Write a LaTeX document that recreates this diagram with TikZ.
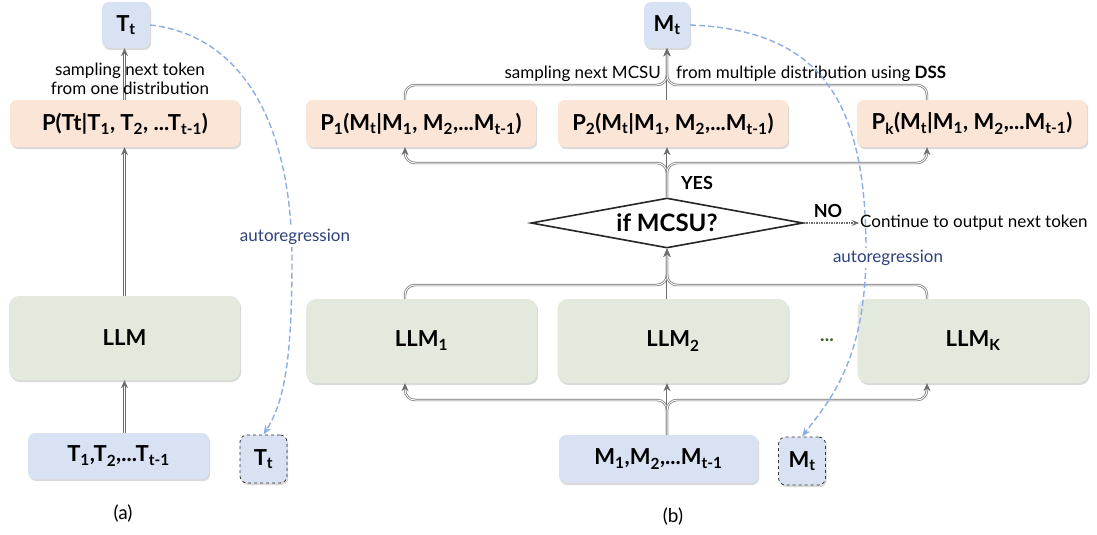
\documentclass[tikz,border=0pt]{standalone}
\usepackage{fontspec}
\setmainfont{Lato}
\usetikzlibrary{shapes.geometric,arrows.meta,shadows,calc}
\newcommand{\sbs}[1]{\textsubscript{#1}}
\definecolor{boxblue}{RGB}{217,226,243}
\definecolor{boxorange}{RGB}{251,229,214}
\definecolor{boxgreen}{RGB}{227,234,221}
\definecolor{arblue}{RGB}{140,172,230}
\definecolor{artext}{RGB}{45,65,125}
\definecolor{dotgreen}{RGB}{60,95,35}
\definecolor{tubegray}{RGB}{110,110,110}
\tikzset{
  box/.style={rounded corners=7pt, inner sep=0pt, font=\fontsize{22}{25}\selectfont\bfseries,
    drop shadow={shadow xshift=1.2pt, shadow yshift=-2pt, opacity=0.3}},
  bluebox/.style={box, fill=boxblue},
  orangebox/.style={box, fill=boxorange, minimum width=230pt, minimum height=47pt},
  greenbox/.style={box, fill=boxgreen, minimum width=231pt, minimum height=84pt, rounded corners=10pt},
  newtok/.style={box, fill=boxblue, draw=black!80, dashed, line width=0.8pt, minimum width=47pt, minimum height=48pt},
  decision/.style={diamond, draw=black!85, line width=1.6pt, fill=white, shape aspect=5.4,
    minimum width=272pt, minimum height=50pt, inner sep=0pt, font=\fontsize{24}{27}\selectfont\bfseries},
  tube/.style={draw=tubegray, double=white, double distance=1pt, line width=0.7pt,
    -{Stealth[length=8pt,width=7pt]}, rounded corners=10pt},
  autoreg/.style={draw=arblue, line width=1.4pt, dash pattern=on 6pt off 3pt,
    -{Stealth[length=9pt,width=7pt]}},
  note/.style={font=\fontsize{17}{19}\selectfont, inner sep=1pt},
  artxt/.style={font=\fontsize{17}{19}\selectfont, text=artext, fill=white, inner sep=2pt},
}
\begin{document}
\begin{tikzpicture}[x=1pt,y=-1pt]
\useasboundingbox (0,0) rectangle (1097,535);
% ---------- (a)
\node[bluebox, minimum width=48pt, minimum height=46pt] (Tt) at (126,25) {T\sbs{t}};
\node[orangebox] (Pa) at (125,123.5) {P(Tt|T\sbs{1}, T\sbs{2}, ...T\sbs{t-1})};
\node[greenbox] (LLMa) at (124.5,338) {LLM};
\node[bluebox, minimum width=181pt, minimum height=46pt] (T1) at (118.5,456) {T\sbs{1},T\sbs{2},...T\sbs{t-1}};
\node[newtok] (Tta) at (263.5,459) {T\sbs{t}};
\node[font=\fontsize{19}{22}\selectfont] (la) at (123,514) {(a)};
\draw[tube] (T1.north -| LLMa) -- (LLMa.south);
\draw[tube] (LLMa.north) -- (Pa.south -| LLMa);
\draw[tube] (Pa.north -| LLMa) -- (Tt.south -| LLMa);
\node[note, align=center] (samp) at (130,79) {sampling next token\\from one distribution};
\draw[autoreg] (Tt.east) .. controls (240,35) and (292,120) .. (292,260)
  .. controls (292,370) and (282,405) .. (Tta.north);
\node[artxt] (ara) at (295,237) {autoregression};
% ---------- (b)
\coordinate (cl) at (405,0);
\coordinate (cr) at (927,0);
\coordinate (yb1) at (0,400);
\coordinate (yb2) at (0,285);
\coordinate (yb3) at (0,163);
\coordinate (yb4) at (0,85);
\node[bluebox, minimum width=46pt, minimum height=46pt] (Mt) at (667,25) {M\sbs{t}};
\node[orangebox] (P1) at (421,123.5) {P\sbs{1}(M\sbs{t}|M\sbs{1}, M\sbs{2},...M\sbs{t-1})};
\node[orangebox] (P2) at (673,123.5) {P\sbs{2}(M\sbs{t}|M\sbs{1}, M\sbs{2},...M\sbs{t-1})};
\node[orangebox] (Pk) at (972,123.5) {P\sbs{k}(M\sbs{t}|M\sbs{1}, M\sbs{2},...M\sbs{t-1})};
\node[greenbox] (L1) at (421.5,341) {LLM\sbs{1}};
\node[greenbox] (L2) at (673,341) {LLM\sbs{2}};
\node[greenbox] (LK) at (973,341) {LLM\sbs{K}};
\node[font=\fontsize{19}{22}\selectfont\bfseries, text=dotgreen] (dots) at (827,340) {...};
\node[bluebox, minimum width=199pt, minimum height=48pt] (M1) at (658.5,459) {M\sbs{1},M\sbs{2},...M\sbs{t-1}};
\node[newtok] (Mtb) at (802,461) {M\sbs{t}};
\node[font=\fontsize{19}{22}\selectfont] (lb) at (673,517) {(b)};
% bottom distribution
\draw[tube] (M1.north -| Mt) -- (L2.south -| Mt);
\draw[tube] (M1.north -| Mt) -- (Mt |- yb1) -- (cl |- yb1) -- (L1.south -| cl);
\draw[tube] (M1.north -| Mt) -- (Mt |- yb1) -- (cr |- yb1) -- (LK.south -| cr);
% gather to decision
\node[decision] (dec) at (667,223) {if MCSU?};
\draw[tube] (L2.north -| Mt) -- (dec.south);
\draw[tube] (L1.north -| cl) -- (cl |- yb2) -- (Mt |- yb2) -- (dec.south);
\draw[tube] (LK.north -| cr) -- (cr |- yb2) -- (Mt |- yb2) -- (dec.south);
% distribute to P
\draw[tube] (dec.north) -- (P2.south -| Mt);
\draw[tube] (dec.north) -- (Mt |- yb3) -- (cl |- yb3) -- (P1.south -| cl);
\draw[tube] (dec.north) -- (Mt |- yb3) -- (cr |- yb3) -- (Pk.south -| cr);
% gather to Mt
\draw[tube] (P2.north -| Mt) -- (Mt.south);
\draw[tube] (P1.north -| cl) -- (cl |- yb4) -- (Mt |- yb4) -- (Mt.south);
\draw[tube] (Pk.north -| cr) -- (cr |- yb4) -- (Mt |- yb4) -- (Mt.south);
\node[note, anchor=east] (sm1) at (662,74) {sampling next MCSU};
\node[note, anchor=west] (sm2) at (675,74) {from multiple distribution using \textbf{DSS}};
\node[font=\fontsize{18}{20}\selectfont\bfseries] (yes) at (697,183) {YES};
% autoregression (b)
\draw[autoreg] (Mt.east) .. controls (820,30) and (866,100) .. (866,250)
  .. controls (866,360) and (830,400) .. (Mtb.north);
\node[artxt] (arb) at (888,258) {autoregression};
\node[note, anchor=west] (cont) at (859,223) {Continue to output next token};
\draw[draw=tubegray, line width=1.4pt, dash pattern=on 1.5pt off 1pt, -{Stealth[length=7pt,width=6pt]}] (dec.east) -- (cont.west);
\node[font=\fontsize{18}{20}\selectfont\bfseries] (no) at (828,211) {NO};
\end{tikzpicture}
\end{document}
